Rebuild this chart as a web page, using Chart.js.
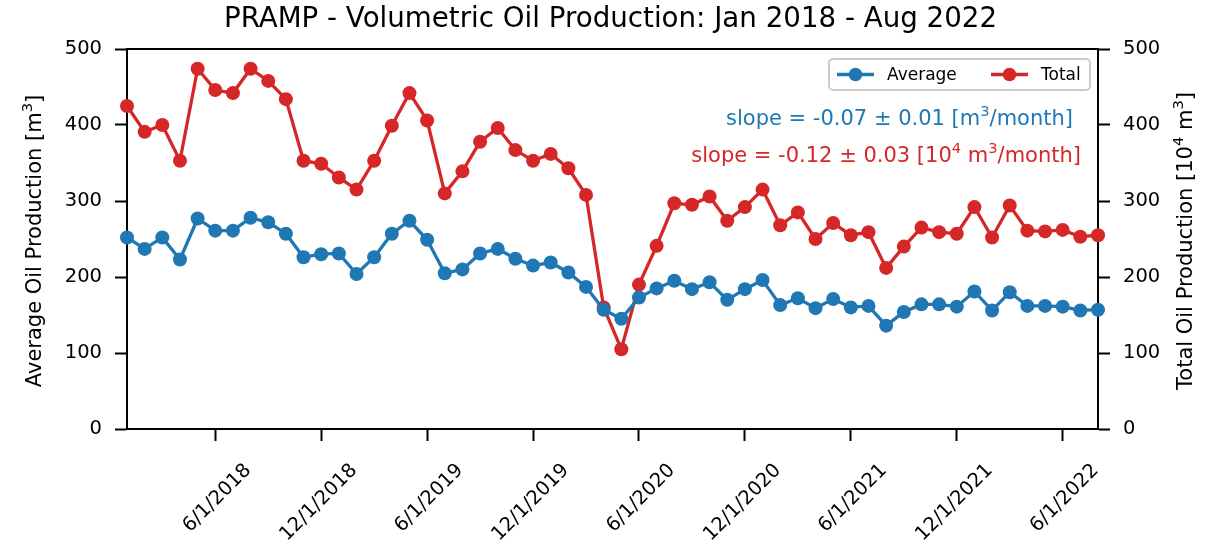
<!DOCTYPE html>
<html>
<head>
<meta charset="utf-8">
<script src="https://cdn.jsdelivr.net/npm/chart.js@4.4.0/dist/chart.umd.min.js"></script>
<style>
html,body{margin:0;padding:0;background:#fff;}
#wrap{width:1217px;height:544px;position:relative;}
</style>
</head>
<body>
<div id="wrap"><canvas id="c" width="1217" height="544"></canvas></div>
<script>
const months = [
 '1/1/2018','2/1/2018','3/1/2018','4/1/2018','5/1/2018','6/1/2018','7/1/2018','8/1/2018','9/1/2018','10/1/2018','11/1/2018','12/1/2018',
 '1/1/2019','2/1/2019','3/1/2019','4/1/2019','5/1/2019','6/1/2019','7/1/2019','8/1/2019','9/1/2019','10/1/2019','11/1/2019','12/1/2019',
 '1/1/2020','2/1/2020','3/1/2020','4/1/2020','5/1/2020','6/1/2020','7/1/2020','8/1/2020','9/1/2020','10/1/2020','11/1/2020','12/1/2020',
 '1/1/2021','2/1/2021','3/1/2021','4/1/2021','5/1/2021','6/1/2021','7/1/2021','8/1/2021','9/1/2021','10/1/2021','11/1/2021','12/1/2021',
 '1/1/2022','2/1/2022','3/1/2022','4/1/2022','5/1/2022','6/1/2022','7/1/2022','8/1/2022'
];
const averageValues = [
 252,237,252,223,277,261,261,278,272,257,226,230,
 231,204,226,257,274,249,205,210,231,237,224,215,
 219,206,187,157,145,173,185,195,184,193,170,184,
 196,163,172,159,171,160,162,136,154,164,164,161,
 181,156,180,162,162,161,156,157
];
const totalValues = [
 425,391,400,353,474,446,442,474,458,434,353,349,
 331,315,353,399,442,406,310,339,378,396,367,353,
 362,343,308,160,105,190,241,297,295,306,274,292,
 315,268,285,250,271,255,259,212,240,265,259,257,
 292,252,294,261,260,262,253,255
];
const yTicks = [0,100,200,300,400,500];
const titleText = 'PRAMP - Volumetric Oil Production: Jan 2018 - Aug 2022';
// [text, isSuperscript]
const leftTitle = [['Average Oil Production [m',0],['3',1],[']',0]];
const rightTitle = [['Total Oil Production [10',0],['4',1],[' m',0],['3',1],[']',0]];
const slopeAvg = [['slope = -0.07 ± 0.01 [m',0],['3',1],['/month]',0]];
const slopeTot = [['slope = -0.12 ± 0.03 [10',0],['4',1],[' m',0],['3',1],['/month]',0]];

const BLUE = '#1f77b4', RED = '#d62728';
const FONT = "'DejaVu Sans', sans-serif";

function richWidth(ctx, segs, size) {
  let w = 0;
  segs.forEach(([t, s]) => { ctx.font = (s ? size * 0.7 : size) + 'px ' + FONT; w += ctx.measureText(t).width; });
  return w;
}
function drawRich(ctx, segs, x, y, align, size, color) {
  const w = richWidth(ctx, segs, size);
  let cx = align === 'right' ? x - w : align === 'center' ? x - w / 2 : x;
  ctx.fillStyle = color;
  ctx.textAlign = 'left';
  ctx.textBaseline = 'alphabetic';
  segs.forEach(([t, s]) => {
    ctx.font = (s ? size * 0.7 : size) + 'px ' + FONT;
    ctx.fillText(t, cx, s ? y - size * 0.42 : y);
    cx += ctx.measureText(t).width;
  });
}

const decor = {
  id: 'decor',
  afterDraw(chart) {
    const ctx = chart.ctx, a = chart.chartArea;
    ctx.save();
    // top spine
    ctx.strokeStyle = '#000'; ctx.lineWidth = 2;
    ctx.beginPath(); ctx.moveTo(a.left - 1, a.top); ctx.lineTo(a.right + 1, a.top); ctx.stroke();
    // title
    ctx.fillStyle = '#000';
    ctx.font = '27.7px ' + FONT;
    ctx.textAlign = 'center'; ctx.textBaseline = 'middle';
    ctx.fillText(titleText, 610.5, 20);
    // axis titles
    ctx.save();
    ctx.translate(34, 241);
    ctx.rotate(-Math.PI / 2);
    drawRich(ctx, leftTitle, 0, 7, 'center', 21, '#000');
    ctx.restore();
    ctx.save();
    ctx.translate(1185, 241);
    ctx.rotate(-Math.PI / 2);
    drawRich(ctx, rightTitle, 0, 7, 'center', 21, '#000');
    ctx.restore();
    // slope annotations
    drawRich(ctx, slopeAvg, 1073, 125, 'right', 21, BLUE);
    drawRich(ctx, slopeTot, 1081, 162, 'right', 21, RED);
    // legend
    const lx = 829, ly = 59, lw = 261, lh = 31;
    ctx.fillStyle = 'rgba(255,255,255,0.8)';
    ctx.strokeStyle = '#cccccc'; ctx.lineWidth = 2;
    ctx.beginPath();
    ctx.roundRect(lx, ly, lw, lh, 4);
    ctx.fill(); ctx.stroke();
    const items = [
      {label: chart.data.datasets[0].label, color: BLUE, x: 837},
      {label: chart.data.datasets[1].label, color: RED, x: 991}
    ];
    ctx.font = '17px ' + FONT;
    ctx.textAlign = 'left'; ctx.textBaseline = 'middle';
    items.forEach(it => {
      const cy = ly + lh / 2;
      ctx.strokeStyle = it.color; ctx.lineWidth = 3.3;
      ctx.beginPath(); ctx.moveTo(it.x, cy); ctx.lineTo(it.x + 37, cy); ctx.stroke();
      ctx.fillStyle = it.color;
      ctx.beginPath(); ctx.arc(it.x + 18.5, cy, 6.8, 0, Math.PI * 2); ctx.fill();
      ctx.fillStyle = '#000';
      ctx.fillText(it.label, it.x + 50, cy + 1);
    });
    ctx.restore();
  }
};

const tickFont = {family: FONT, size: 19.5};

new Chart(document.getElementById('c'), {
  type: 'line',
  data: {
    labels: months,
    datasets: [
      {label: 'Average', data: averageValues, yAxisID: 'y', borderColor: BLUE, backgroundColor: BLUE,
       borderWidth: 3.3, pointRadius: 7, pointBackgroundColor: BLUE, pointBorderWidth: 0, tension: 0},
      {label: 'Total', data: totalValues, yAxisID: 'y1', borderColor: RED, backgroundColor: RED,
       borderWidth: 3.3, pointRadius: 7, pointBackgroundColor: RED, pointBorderWidth: 0, tension: 0}
    ]
  },
  options: {
    responsive: false,
    animation: false,
    events: [],
    layout: {padding: {top: 49, left: 0, right: 0, bottom: 0}},
    plugins: {legend: {display: false}, tooltip: {enabled: false}, title: {display: false}},
    scales: {
      x: {
        type: 'category',
        offset: false,
        border: {display: true, color: '#000', width: 2},
        grid: {drawOnChartArea: false, drawTicks: true, tickLength: 12, tickColor: '#000', tickWidth: 2},
        ticks: {
          autoSkip: false, maxRotation: 45, minRotation: 45, color: '#000', font: tickFont,
          labelOffset: 33, padding: 18,
          callback(v) {
            const l = this.getLabelForValue(v);
            return (l.startsWith('6/') || l.startsWith('12/')) ? l : null;
          }
        },
        afterFit(s) { s.height = 115; }
      },
      y: {
        position: 'left', min: 0, max: 500,
        border: {display: true, color: '#000', width: 2},
        grid: {drawOnChartArea: false, tickLength: 12, tickColor: '#000', tickWidth: 2},
        ticks: {stepSize: 100, color: '#000', font: tickFont, padding: 13},
        afterBuildTicks(s) { s.ticks = yTicks.map(v => ({value: v})); },
        afterFit(s) { s.width = 127; }
      },
      y1: {
        position: 'right', min: 0, max: 500,
        border: {display: true, color: '#000', width: 2},
        grid: {drawOnChartArea: false, tickLength: 12, tickColor: '#000', tickWidth: 2},
        ticks: {stepSize: 100, color: '#000', font: tickFont, padding: 13},
        afterBuildTicks(s) { s.ticks = yTicks.map(v => ({value: v})); },
        afterFit(s) { s.width = 119; }
      }
    }
  },
  plugins: [decor]
});
</script>
</body>
</html>
